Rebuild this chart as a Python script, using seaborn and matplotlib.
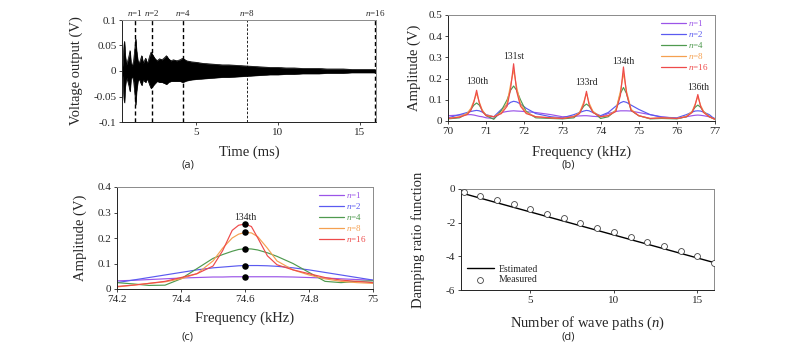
import numpy as np
import pandas as pd
import matplotlib
matplotlib.use("Agg")
import matplotlib.pyplot as plt
import seaborn as sns

# ---------------- data ----------------
# (a) time-domain signal envelope (ms, V)
t_env = [0.45, 0.52, 0.56, 0.6, 0.65, 0.72, 0.8, 0.88, 0.94, 1.0,
         1.08, 1.16, 1.24, 1.29, 1.34, 1.42, 1.5, 1.58, 1.66, 1.75,
         1.82, 1.9, 1.98, 2.06, 2.15, 2.23, 2.32, 2.45, 2.6, 2.75,
         2.9, 3.05, 3.17, 3.3, 3.45, 3.6, 3.8, 4.0, 4.17, 4.4,
         4.7, 5.0, 5.4, 5.8, 6.2, 6.6, 7.0, 7.5, 8.0, 8.5,
         9.0, 9.5, 10.0, 10.5, 11.0, 11.5, 12.0, 12.5, 13.0, 13.5,
         14.0, 14.5, 15.0, 15.5, 15.95]
env_upper = [0.0, 0.02, 0.045, 0.058, 0.03, 0.012, 0.02, 0.03, 0.04, 0.015,
             0.01, 0.02, 0.045, 0.063, 0.04, 0.02, 0.015, 0.022, 0.03, 0.015,
             0.02, 0.025, 0.015, 0.02, 0.03, 0.037, 0.032, 0.025, 0.02, 0.024,
             0.022, 0.026, 0.03, 0.024, 0.02, 0.022, 0.02, 0.022, 0.025, 0.02,
             0.018, 0.017, 0.015, 0.014, 0.013, 0.012, 0.012, 0.011, 0.01, 0.009,
             0.008, 0.007, 0.007, 0.006, 0.006, 0.005, 0.005, 0.005, 0.004, 0.004,
             0.004, 0.003, 0.003, 0.003, 0.003]
env_lower = [-0.0, -0.02, -0.05, -0.062, -0.03, -0.012, -0.02, -0.03, -0.04, -0.015,
             -0.01, -0.02, -0.045, -0.066, -0.04, -0.02, -0.015, -0.022, -0.028, -0.015,
             -0.02, -0.022, -0.015, -0.02, -0.028, -0.034, -0.03, -0.025, -0.02, -0.022,
             -0.022, -0.024, -0.026, -0.022, -0.02, -0.02, -0.02, -0.02, -0.022, -0.019,
             -0.017, -0.016, -0.015, -0.014, -0.013, -0.012, -0.012, -0.011, -0.01, -0.009,
             -0.008, -0.007, -0.007, -0.006, -0.006, -0.005, -0.005, -0.005, -0.004, -0.004,
             -0.004, -0.003, -0.003, -0.003, -0.003]
path_labels = ["1", "2", "4", "8", "16"]
path_times = [1.25, 2.28, 4.2, 8.1, 15.95]

# (b) spectra 70-77 kHz
freq_b = [70.0, 70.3, 70.5, 70.6, 70.68, 70.75, 70.82, 70.9, 71.0, 71.2,
          71.4, 71.55, 71.64, 71.72, 71.8, 71.9, 72.05, 72.3, 72.7, 73.0,
          73.3, 73.45, 73.56, 73.63, 73.7, 73.8, 74.0, 74.2, 74.4, 74.52,
          74.6, 74.68, 74.8, 75.0, 75.3, 75.6, 76.0, 76.25, 76.4, 76.48,
          76.55, 76.62, 76.7, 76.85, 77.0]
amp_b_n1 = [0.025, 0.028, 0.03, 0.03, 0.028, 0.025, 0.022, 0.02, 0.015, 0.012,
            0.04, 0.045, 0.047, 0.048, 0.047, 0.046, 0.044, 0.04, 0.03, 0.02,
            0.022, 0.024, 0.025, 0.025, 0.024, 0.022, 0.02, 0.035, 0.045, 0.048,
            0.048, 0.048, 0.047, 0.04, 0.03, 0.02, 0.012, 0.02, 0.025, 0.027,
            0.028, 0.027, 0.025, 0.02, 0.012]
amp_b_n2 = [0.015, 0.03, 0.04, 0.045, 0.048, 0.05, 0.048, 0.042, 0.03, 0.02,
            0.055, 0.075, 0.088, 0.093, 0.09, 0.08, 0.06, 0.035, 0.02, 0.015,
            0.03, 0.04, 0.047, 0.05, 0.048, 0.04, 0.025, 0.04, 0.07, 0.086,
            0.092, 0.088, 0.075, 0.055, 0.03, 0.018, 0.015, 0.03, 0.042, 0.047,
            0.048, 0.047, 0.042, 0.03, 0.008]
amp_b_n4 = [0.01, 0.015, 0.035, 0.055, 0.075, 0.085, 0.075, 0.05, 0.025, 0.008,
            0.05, 0.1, 0.145, 0.165, 0.145, 0.1, 0.045, 0.015, 0.012, 0.01,
            0.015, 0.04, 0.07, 0.08, 0.07, 0.045, 0.012, 0.02, 0.05, 0.13,
            0.158, 0.13, 0.05, 0.025, 0.01, 0.012, 0.01, 0.02, 0.045, 0.065,
            0.075, 0.065, 0.045, 0.02, 0.008]
amp_b_n8 = [0.012, 0.02, 0.035, 0.06, 0.095, 0.13, 0.09, 0.05, 0.028, 0.02,
            0.04, 0.085, 0.17, 0.24, 0.16, 0.08, 0.04, 0.02, 0.015, 0.012,
            0.022, 0.04, 0.09, 0.13, 0.085, 0.045, 0.02, 0.025, 0.05, 0.14,
            0.225, 0.14, 0.055, 0.025, 0.012, 0.015, 0.012, 0.022, 0.045, 0.08,
            0.115, 0.075, 0.045, 0.02, 0.008]
amp_b_n16 = [0.012, 0.018, 0.03, 0.05, 0.09, 0.145, 0.085, 0.045, 0.025, 0.02,
             0.035, 0.07, 0.15, 0.27, 0.14, 0.07, 0.035, 0.02, 0.015, 0.012,
             0.02, 0.035, 0.08, 0.14, 0.075, 0.04, 0.02, 0.025, 0.045, 0.12,
             0.255, 0.13, 0.05, 0.025, 0.012, 0.015, 0.012, 0.02, 0.04, 0.075,
             0.125, 0.07, 0.04, 0.02, 0.008]
mode_labels = ["130th", "131st", "133rd", "134th", "136th"]
mode_freqs = [70.77, 71.72, 73.63, 74.6, 76.55]
mode_label_y = [0.184, 0.306, 0.18, 0.282, 0.158]

# (c) zoom on the 134th mode
freq_c = [74.2, 74.25, 74.3, 74.35, 74.4, 74.45, 74.5, 74.53, 74.56, 74.58,
          74.6, 74.62, 74.64, 74.67, 74.7, 74.75, 74.8, 74.85, 74.9, 74.95, 75.0]
amp_c_n1 = [0.032, 0.034, 0.037, 0.04, 0.043, 0.045, 0.047, 0.047, 0.048, 0.048,
            0.048, 0.048, 0.048, 0.048, 0.048, 0.047, 0.045, 0.043, 0.04, 0.037, 0.034]
amp_c_n2 = [0.025, 0.035, 0.045, 0.055, 0.065, 0.075, 0.083, 0.086, 0.089, 0.091,
            0.092, 0.092, 0.092, 0.091, 0.089, 0.083, 0.075, 0.065, 0.055, 0.045, 0.035]
amp_c_n4 = [0.025, 0.02, 0.014, 0.015, 0.04, 0.08, 0.12, 0.135, 0.148, 0.155,
            0.158, 0.157, 0.153, 0.142, 0.128, 0.1, 0.065, 0.03, 0.025, 0.03, 0.032]
amp_c_n8 = [0.008, 0.015, 0.022, 0.028, 0.04, 0.06, 0.11, 0.16, 0.2, 0.215,
            0.222, 0.22, 0.205, 0.16, 0.11, 0.075, 0.055, 0.04, 0.03, 0.025, 0.022]
amp_c_n16 = [0.01, 0.015, 0.022, 0.03, 0.045, 0.06, 0.09, 0.15, 0.23, 0.25,
             0.255, 0.245, 0.2, 0.13, 0.095, 0.075, 0.06, 0.045, 0.035, 0.03, 0.025]
peak_freq_c = 74.6
peak_amp_c = [0.047, 0.092, 0.158, 0.223, 0.255]

# (d) damping ratio function
n_paths = list(range(1, 17))
damping_measured = [-0.16, -0.4, -0.65, -0.91, -1.17, -1.47, -1.74, -2.04,
                    -2.3, -2.55, -2.85, -3.15, -3.4, -3.7, -4.0, -4.4]
n_est = [1, 16]
damping_est = [-0.27, -4.37]

colors = {"1": "#9b55e8", "2": "#5a5af0", "4": "#4f9a4f", "8": "#f5a050", "16": "#ee4a4a"}

# ---------------- style ----------------
sns.set_theme(style="ticks")
plt.rcParams["font.family"] = ["Liberation Serif", "DejaVu Serif"]
plt.rcParams["mathtext.fontset"] = "custom"
plt.rcParams["mathtext.rm"] = "Liberation Serif"
plt.rcParams["mathtext.it"] = "Liberation Serif:italic"
plt.rcParams["xtick.labelsize"] = 8
plt.rcParams["ytick.labelsize"] = 8
plt.rcParams["xtick.major.size"] = 2.5
plt.rcParams["ytick.major.size"] = 2.5
plt.rcParams["xtick.major.width"] = 0.6
plt.rcParams["ytick.major.width"] = 0.6
plt.rcParams["xtick.major.pad"] = 2
plt.rcParams["ytick.major.pad"] = 1.5

W, H = 800, 349
fig = plt.figure(figsize=(8, 3.49), dpi=100)


def px_axes(x0, y0, x1, y1):
    return fig.add_axes([x0 / W, 1 - y1 / H, (x1 - x0) / W, (y1 - y0) / H])


def style_axes(ax):
    for s in ["top", "right"]:
        ax.spines[s].set_color("#8a8a8a")
        ax.spines[s].set_linewidth(0.7)
    for s in ["left", "bottom"]:
        ax.spines[s].set_color("#222222")
        ax.spines[s].set_linewidth(0.7)


def long_df(freqs, series):
    rows = []
    for lab, vals in series:
        for f, v in zip(freqs, vals):
            rows.append({"f": f, "a": v, "n": lab})
    return pd.DataFrame(rows)


def colored_legend(ax, **kw):
    handles, labels = ax.get_legend_handles_labels()
    labels = [f"$n$={l}" for l in labels]
    leg = ax.legend(handles, labels, frameon=False, fontsize=6.5,
                    handlelength=2.7, handletextpad=0.3, labelspacing=0.1, **kw)
    for txt, line in zip(leg.get_texts(), leg.get_lines()):
        txt.set_color(line.get_color())
        line.set_linewidth(0.9)
    return leg


label_fs = 10.5

# ---------------- (a) ----------------
axa = px_axes(122, 20, 376, 122)
axa.fill_between(t_env, env_lower, env_upper, color="black", linewidth=0.4)
sns.lineplot(x=t_env, y=env_upper, ax=axa, color="black", linewidth=0.5)
sns.lineplot(x=t_env, y=env_lower, ax=axa, color="black", linewidth=0.5)
for lab, tp in zip(path_labels, path_times):
    axa.axvline(tp, color="black", linestyle=(0, (3, 2)),
                linewidth=0.6 if lab == "8" else 1.0)
    axa.text(tp, 0.104, f"$n$={lab}", ha="center", va="bottom", fontsize=6.5)
axa.set_xlim(0.45, 16.0)
axa.set_ylim(-0.1, 0.1)
axa.set_xticks([5, 10, 15])
axa.set_xticklabels(["5", "10", "15"])
axa.set_yticks([-0.1, -0.05, 0, 0.05, 0.1])
axa.set_yticklabels(["-0.1", "-0.05", "0", "0.05", "0.1"])
axa.set_xlabel("Time (ms)", fontsize=label_fs)
axa.set_ylabel("Voltage output (V)", fontsize=label_fs)
axa.xaxis.set_label_coords(0.5, -0.23)
axa.yaxis.set_label_coords(-0.155, 0.5)
style_axes(axa)

# ---------------- (b) ----------------
axb = px_axes(448, 15, 715, 121)
df_b = long_df(freq_b, [("1", amp_b_n1), ("2", amp_b_n2), ("4", amp_b_n4),
                        ("8", amp_b_n8), ("16", amp_b_n16)])
sns.lineplot(data=df_b, x="f", y="a", hue="n", palette=colors, ax=axb,
             sort=False, estimator=None, linewidth=0.85)
for lab, f, y in zip(mode_labels, mode_freqs, mode_label_y):
    axb.text(f, y, lab, ha="center", va="center", fontsize=7)
axb.set_xlim(70, 77)
axb.set_ylim(0, 0.5)
axb.set_xticks([70, 71, 72, 73, 74, 75, 76, 77])
axb.set_xticklabels(["70", "71", "72", "73", "74", "75", "76", "77"])
axb.set_yticks([0, 0.1, 0.2, 0.3, 0.4, 0.5])
axb.set_yticklabels(["0", "0.1", "0.2", "0.3", "0.4", "0.5"])
axb.set_xlabel("Frequency (kHz)", fontsize=label_fs)
axb.set_ylabel("Amplitude (V)", fontsize=label_fs)
axb.xaxis.set_label_coords(0.5, -0.23)
axb.yaxis.set_label_coords(-0.1, 0.5)
colored_legend(axb, loc="upper right", bbox_to_anchor=(1.0, 1.03),
               borderaxespad=0.3)
style_axes(axb)

# ---------------- (c) ----------------
axc = px_axes(117, 187, 373, 289)
df_c = long_df(freq_c, [("1", amp_c_n1), ("2", amp_c_n2), ("4", amp_c_n4),
                        ("8", amp_c_n8), ("16", amp_c_n16)])
sns.lineplot(data=df_c, x="f", y="a", hue="n", palette=colors, ax=axc,
             sort=False, estimator=None, linewidth=0.85)
sns.scatterplot(x=[peak_freq_c] * len(peak_amp_c), y=peak_amp_c, ax=axc,
                color="black", s=22, edgecolor="black", linewidth=0, zorder=5,
                legend=False)
axc.text(peak_freq_c, 0.281, "134th", ha="center", va="center", fontsize=7)
axc.set_xlim(74.2, 75.0)
axc.set_ylim(0, 0.4)
axc.set_xticks([74.2, 74.4, 74.6, 74.8, 75.0])
axc.set_xticklabels(["74.2", "74.4", "74.6", "74.8", "75"])
axc.set_yticks([0, 0.1, 0.2, 0.3, 0.4])
axc.set_yticklabels(["0", "0.1", "0.2", "0.3", "0.4"])
axc.set_xlabel("Frequency (kHz)", fontsize=label_fs)
axc.set_ylabel("Amplitude (V)", fontsize=label_fs)
axc.xaxis.set_label_coords(0.5, -0.22)
axc.yaxis.set_label_coords(-0.116, 0.5)
colored_legend(axc, loc="upper right", bbox_to_anchor=(1.0, 1.03),
               borderaxespad=0.3)
style_axes(axc)

# ---------------- (d) ----------------
axd = px_axes(461, 189, 714, 290)
sns.lineplot(x=n_est, y=damping_est, ax=axd, color="black", linewidth=1.0,
             label="Estimated")
sns.scatterplot(x=n_paths, y=damping_measured, ax=axd, marker="o", s=18,
                facecolor="white", edgecolor="#444444", linewidth=0.6,
                zorder=5, label="Measured")
axd.set_xlim(0.85, 16.0)
axd.set_ylim(-6, 0)
axd.set_xticks([5, 10, 15])
axd.set_xticklabels(["5", "10", "15"])
axd.set_yticks([0, -2, -4, -6])
axd.set_yticklabels(["0", "-2", "-4", "-6"])
axd.set_xlabel("Number of wave paths ($n$)", fontsize=label_fs)
axd.set_ylabel("Damping ratio function", fontsize=label_fs)
axd.xaxis.set_label_coords(0.5, -0.245)
axd.yaxis.set_label_coords(-0.142, 0.5)
axd.legend(loc="lower left", frameon=False, fontsize=7, handlelength=2.8,
           handletextpad=0.5, labelspacing=0.15, borderaxespad=0.2)
style_axes(axd)

# ---------------- panel labels ----------------
for lab, x, y in [("(a)", 188, 165), ("(b)", 568, 165), ("(c)", 188, 337), ("(d)", 568, 337)]:
    fig.text(x / W, 1 - y / H, lab, ha="center", va="center", fontsize=8,
             family=["Open Sans", "DejaVu Sans"])

fig.savefig("out.png", dpi=100)
